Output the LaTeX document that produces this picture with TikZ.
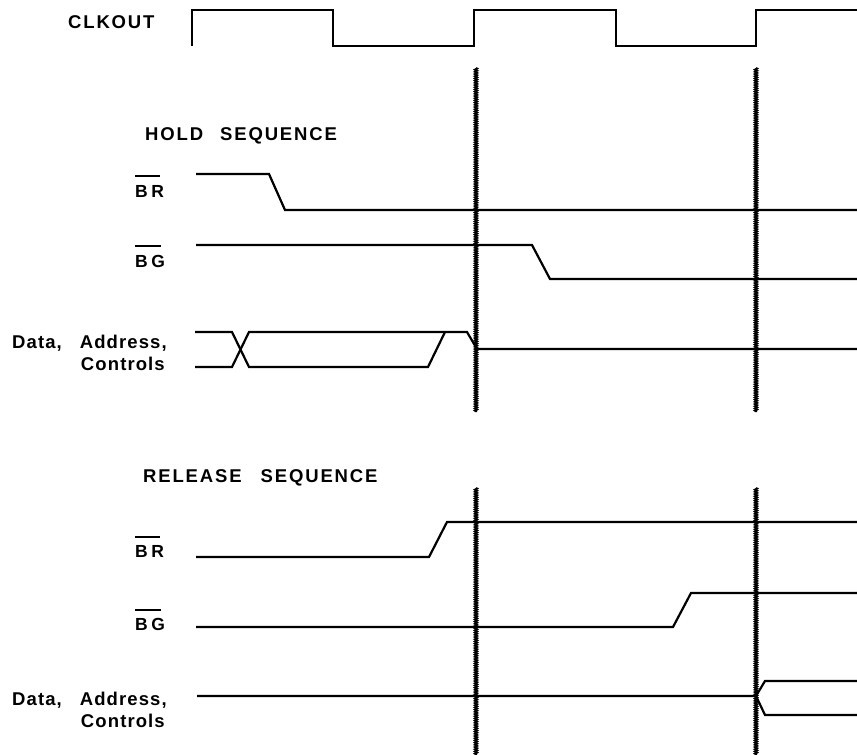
\documentclass[tikz,border=0pt]{standalone}
\usepackage{fontspec}
\setmainfont{Liberation Sans}
\newfontfamily\capsfont[LetterSpace=10]{Liberation Sans Bold}
\newfontfamily\barfont[LetterSpace=20]{Liberation Sans Bold}
\newfontfamily\datafont[LetterSpace=6]{Liberation Sans Bold}
\usetikzlibrary{decorations.pathmorphing}
\begin{document}
\begin{tikzpicture}[x=1pt,y=-1pt,
  sig/.style={line width=2.2pt},
  marker/.style={line width=2pt, decorate,
    decoration={zigzag, segment length=2.2pt, amplitude=1pt}},
  head/.style={inner sep=0, anchor=base west, font=\capsfont\fontsize{18.5}{22}\selectfont},
  barlab/.style={inner sep=0, anchor=base west, font=\barfont\fontsize{17.5}{20}\selectfont},
  datl/.style={inner sep=0, font=\datafont\fontsize{18.5}{22}\selectfont},
  bar/.style={line width=2pt}]
\useasboundingbox (0,0) rectangle (857,755);

% ---------- clock ----------
\node[head] (clk) at (68,28) {CLKOUT};
\draw[sig] (192,46) -- (192,10) -- (333,10) -- (333,46) -- (474,46) -- (474,10)
  -- (616,10) -- (616,46) -- (756,46) -- (756,10) -- (857,10);

% ---------- reference markers ----------
\coordinate (m1a) at (476,68);  \coordinate (m1b) at (476,412);
\coordinate (m2a) at (756,68);  \coordinate (m2b) at (756,412);
\coordinate (m3a) at (476,488); \coordinate (m3b) at (476,755);
\coordinate (m4a) at (756,488); \coordinate (m4b) at (756,755);
\draw[marker] (m1a) -- (m1b);
\draw[marker] (m2a) -- (m2b);
\draw[marker] (m3a) -- (m3b);
\draw[marker] (m4a) -- (m4b);

% ---------- HOLD SEQUENCE ----------
\node[head] (hold) at (145,140) {HOLD\hspace{17pt}SEQUENCE};

\node[barlab] (br1) at (135,197) {BR};
\draw[bar] ([yshift=21pt]br1.base west) -- ([yshift=21pt,xshift=-4pt]br1.base east);
\draw[sig] (196,174) -- (269,174) -- (285,210) -- (857,210);

\node[barlab] (bg1) at (135,267) {BG};
\draw[bar] ([yshift=21pt]bg1.base west) -- ([yshift=21pt,xshift=-4pt]bg1.base east);
\draw[sig] (196,245) -- (532,245) -- (550,279) -- (857,279);

\node[datl, anchor=base west] (d1) at (12,348) {Data,};
\node[datl, anchor=base east] (a1) at (167,348) {Address,};
\node[datl, anchor=base east] (c1) at (165,370) {Controls};
\draw[sig] (195,332) -- (232,332) -- (249,367) -- (428,367) -- (445,332);
\draw[sig] (195,367) -- (232,367) -- (249,332) -- (467,332) -- (477,349) -- (857,349);

% ---------- RELEASE SEQUENCE ----------
\node[head] (rel) at (143,482) {RELEASE\hspace{19pt}SEQUENCE};

\node[barlab] (br2) at (135,557) {BR};
\draw[bar] ([yshift=20pt]br2.base west) -- ([yshift=20pt,xshift=-4pt]br2.base east);
\draw[sig] (196,557) -- (429,557) -- (447,522) -- (857,522);

\node[barlab] (bg2) at (135,630) {BG};
\draw[bar] ([yshift=20pt]bg2.base west) -- ([yshift=20pt,xshift=-4pt]bg2.base east);
\draw[sig] (196,627) -- (673,627) -- (691,593) -- (857,593);

\node[datl, anchor=base west] (d2) at (12,705) {Data,};
\node[datl, anchor=base east] (a2) at (167,705) {Address,};
\node[datl, anchor=base east] (c2) at (165,727) {Controls};
\draw[sig] (197,696) -- (756,696) -- (765,681) -- (857,681);
\draw[sig] (756,696) -- (765,715) -- (857,715);
\end{tikzpicture}
\end{document}
